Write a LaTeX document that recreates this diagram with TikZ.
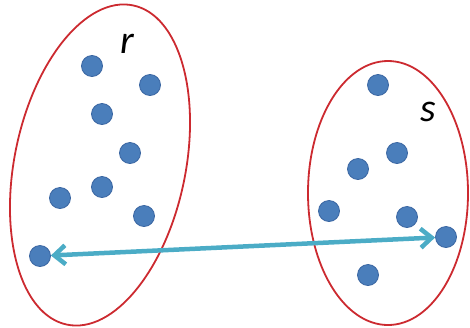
\documentclass[tikz,border=0pt]{standalone}
\usepackage{fontspec}
\usepackage{tikz}
\usetikzlibrary{shapes.geometric, arrows.meta, positioning}
\newfontfamily\setfont{Carlito}
\definecolor{setred}{HTML}{CC2A30}
\definecolor{dotblue}{HTML}{4A7EBB}
\definecolor{dotedge}{HTML}{3A66A2}
\definecolor{linkcyan}{HTML}{4BACC6}

\begin{document}
\begin{tikzpicture}[
    x=1pt, y=-1pt,
    setshape/.style={ellipse, draw=setred, line width=1.8pt, inner sep=0pt},
    pt/.style={circle, fill=dotblue, draw=dotedge, line width=0.8pt,
               minimum size=21pt, inner sep=0pt},
    link/.style={{Straight Barb[length=11pt,width=19pt]}-{Straight Barb[length=11pt,width=19pt]},
                 line width=4.5pt, linkcyan},
    lbl/.style={font=\setfont\itshape\fontsize{40}{40}\selectfont, inner sep=0pt}
]
    \useasboundingbox (0,0) rectangle (470,327);

    \node[setshape, minimum width=171pt, minimum height=326pt, rotate=-11.7] (setr) at (100,165) {};
    \node[setshape, minimum width=160pt, minimum height=264pt] (sets) at (388,193) {};

    \node[lbl] (labr) at (127,44) {r};
    \node[lbl] (labs) at (428,112) {s};

    % points of r
    \node[pt] (r1) at (92,66) {};
    \node[pt] (r2) at (150,85) {};
    \node[pt] (r3) at (102,114) {};
    \node[pt] (r4) at (130,153) {};
    \node[pt] (r5) at (102,187) {};
    \node[pt] (r6) at (60,198) {};
    \node[pt] (r7) at (144,216) {};
    \node[pt] (r8) at (40,256) {};

    % points of s
    \node[pt] (s1) at (378,85) {};
    \node[pt] (s2) at (397,153) {};
    \node[pt] (s3) at (358,169) {};
    \node[pt] (s4) at (329,211) {};
    \node[pt] (s5) at (407,217) {};
    \node[pt] (s6) at (446,237) {};
    \node[pt] (s7) at (368,275) {};

    \draw[link] (r8) -- (s6);
\end{tikzpicture}
\end{document}
